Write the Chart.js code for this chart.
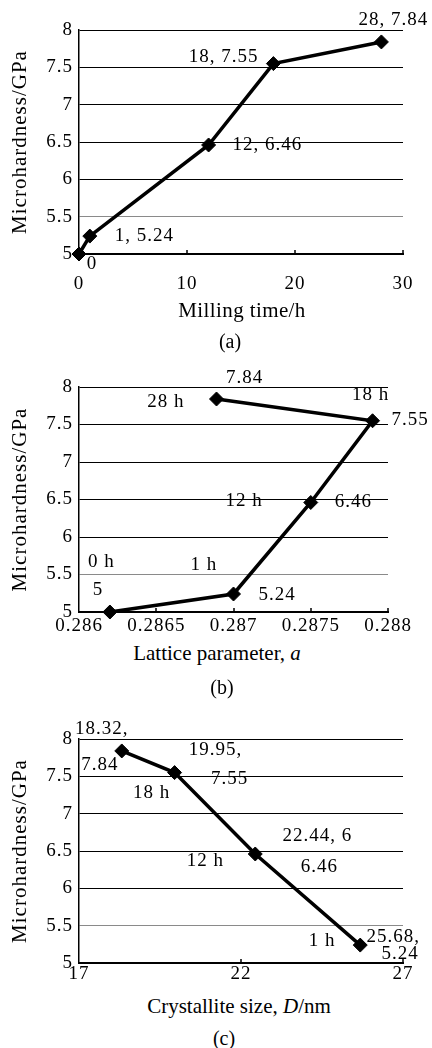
<!DOCTYPE html>
<html>
<head>
<meta charset="utf-8">
<script src="https://cdn.jsdelivr.net/npm/chart.js@4.4.0/dist/chart.umd.min.js"></script>
<style>
  body { margin: 0; background: #fff; }
  #page { position: relative; width: 432px; height: 1048px; background: #fff;
          font-family: 'Liberation Serif', 'Times New Roman', serif; color: #000; }
  canvas { position: absolute; left: 0; }
  .cap { position: absolute; width: 300px; text-align: center; font-size: 21px;
         line-height: 22px; white-space: nowrap; }
  .sub { font-size: 20px; }
</style>
</head>
<body>
<div id="page">
  <canvas id="chartA" width="432" height="300" style="top:0px"></canvas>
  <canvas id="chartB" width="432" height="300" style="top:340px"></canvas>
  <canvas id="chartC" width="432" height="300" style="top:690px"></canvas>
  <div class="cap" style="left:92px;top:299px;letter-spacing:0.4px">Milling time/h</div>
  <div class="cap sub" style="left:80px;top:330px">(a)</div>
  <div class="cap" style="left:67px;top:642px">Lattice parameter, <i>a</i></div>
  <div class="cap sub" style="left:72px;top:676px">(b)</div>
  <div class="cap" style="left:89px;top:995px">Crystallite size, <i>D</i>/nm</div>
  <div class="cap sub" style="left:74px;top:1027px">(c)</div>
</div>
<script>
// measured values per milling time
const millingHours = [0, 1, 12, 18, 28];
const hardnessGPa = [5, 5.24, 6.46, 7.55, 7.84];
const latticeA = [0.2862, 0.287, 0.2875, 0.2879, 0.28689];
// crystallite size only for milled powders (1 h onward)
const crystalliteNm = [25.68, 22.44, 19.95, 18.32];
const crystalliteHardness = [5.24, 6.46, 7.55, 7.84];

// axis ticks
const hardnessTicks = [5, 5.5, 6, 6.5, 7, 7.5, 8];
const timeTicks = [0, 10, 20, 30];
const latticeTicks = [0.286, 0.2865, 0.287, 0.2875, 0.288];
const sizeTicks = [17, 22, 27];

const serif = "'Liberation Serif', 'Times New Roman', serif";
Chart.defaults.font.family = serif;
Chart.defaults.font.size = 19;
Chart.defaults.color = '#000';

const fmt = v => String(+v.toFixed(4));

// text beside each point, offsets in px from the point
const notesA = [
  { i: 0, text: '0', dx: 13, dy: 10, align: 'center' },
  { i: 1, text: `${millingHours[1]}, ${hardnessGPa[1]}`, dx: 25, dy: 0 },
  { i: 2, text: `${millingHours[2]}, ${hardnessGPa[2]}`, dx: 24, dy: 0 },
  { i: 3, text: `${millingHours[3]}, ${hardnessGPa[3]}`, dx: -15, dy: -7, align: 'right' },
  { i: 4, text: `${millingHours[4]}, ${hardnessGPa[4]}`, dx: -23, dy: -22 }
];
const notesB = [
  { i: 0, text: '0 h', dx: -22, dy: -50 },
  { i: 0, text: String(hardnessGPa[0]), dx: -12, dy: -22, align: 'center' },
  { i: 1, text: '1 h', dx: -43, dy: -29 },
  { i: 1, text: String(hardnessGPa[1]), dx: 25, dy: 1 },
  { i: 2, text: '12 h', dx: -48, dy: -1, align: 'right' },
  { i: 2, text: String(hardnessGPa[2]), dx: 24, dy: 0 },
  { i: 3, text: '18 h', dx: -2, dy: -26, align: 'center' },
  { i: 3, text: String(hardnessGPa[3]), dx: 19, dy: -1 },
  { i: 4, text: '28 h', dx: -32, dy: 3, align: 'right' },
  { i: 4, text: String(hardnessGPa[4]), dx: 28, dy: -21, align: 'center' }
];
const notesC = [
  { i: 3, text: crystalliteNm[3] + ',', dx: -20, dy: -22, align: 'center' },
  { i: 3, text: String(crystalliteHardness[3]), dx: -22, dy: 14, align: 'center' },
  { i: 2, text: crystalliteNm[2] + ',', dx: 41, dy: -23, align: 'center' },
  { i: 2, text: String(crystalliteHardness[2]), dx: 55, dy: 6, align: 'center' },
  { i: 2, text: '18 h', dx: -23, dy: 20, align: 'center' },
  { i: 1, text: crystalliteNm[1] + ', 6', dx: 62, dy: -18, align: 'center' },
  { i: 1, text: String(crystalliteHardness[1]), dx: 64, dy: 13, align: 'center' },
  { i: 1, text: '12 h', dx: -50, dy: 7, align: 'center' },
  { i: 0, text: '1 h', dx: -38, dy: -4, align: 'center' },
  { i: 0, text: crystalliteNm[0] + ',', dx: 33, dy: -8, align: 'center' },
  { i: 0, text: String(crystalliteHardness[0]), dx: 40, dy: 9, align: 'center' }
];

// slightly loose letter spacing for all canvas text
const looseText = {
  id: 'looseText',
  beforeDraw(chart) { chart.ctx.letterSpacing = '1px'; }
};

function pointNotes(notes) {
  return {
    id: 'pointNotes',
    afterDatasetsDraw(chart) {
      const pts = chart.getDatasetMeta(0).data;
      const ctx = chart.ctx;
      ctx.save();
      ctx.font = '19px ' + serif;
      ctx.letterSpacing = '1px';
      ctx.fillStyle = '#000';
      ctx.textBaseline = 'middle';
      notes.forEach(n => {
        const p = pts[n.i];
        ctx.textAlign = n.align || 'left';
        ctx.fillText(n.text, p.x + n.dx, p.y + n.dy);
      });
      ctx.restore();
    }
  };
}

// short tick marks pointing up into the plot from the x axis
const innerTicks = {
  id: 'innerTicks',
  beforeDatasetsDraw(chart) {
    const sx = chart.scales.x;
    const ctx = chart.ctx;
    ctx.save();
    ctx.strokeStyle = '#000';
    ctx.lineWidth = 1.5;
    ctx.beginPath();
    sx.ticks.slice(1).forEach(t => {
      const px = Math.round(sx.getPixelForValue(t.value));
      ctx.moveTo(px, sx.top);
      ctx.lineTo(px, sx.top - 4);
    });
    ctx.stroke();
    ctx.restore();
  }
};

function makeChart(id, xs, ys, xMin, xMax, xTicks, box, notes) {
  return new Chart(document.getElementById(id), {
    type: 'scatter',
    data: {
      datasets: [{
        data: xs.map((x, i) => ({ x: x, y: ys[i] })),
        showLine: true,
        borderColor: '#000',
        borderWidth: 3.5,
        pointStyle: 'rectRot',
        pointRadius: 7,
        pointHoverRadius: 7,
        pointBackgroundColor: '#000',
        pointBorderColor: '#000',
        pointBorderWidth: 1,
        clip: false
      }]
    },
    options: {
      responsive: false,
      animation: false,
      events: [],
      layout: { padding: { top: box.top, right: box.right, left: 0, bottom: 0 } },
      plugins: { legend: { display: false }, tooltip: { enabled: false } },
      scales: {
        x: {
          type: 'linear', min: xMin, max: xMax,
          afterBuildTicks: s => { s.ticks = xTicks.map(v => ({ value: v })); },
          afterFit: s => { s.height = box.xh; },
          grid: { display: false, drawTicks: false },
          border: { display: true, color: '#000', width: 2 },
          ticks: { color: '#000', padding: box.pad, maxRotation: 0, autoSkip: false, callback: fmt }
        },
        y: {
          type: 'linear', min: 5, max: 8,
          afterBuildTicks: s => { s.ticks = hardnessTicks.map(v => ({ value: v })); },
          afterFit: s => { s.width = 79; },
          grid: {
            drawTicks: false,
            lineWidth: 1,
            color: c => (c.tick && c.tick.value === 5.5) ? '#8a8a8a' : '#000'
          },
          border: { display: true, color: '#000', width: 1.5 },
          ticks: { color: '#000', padding: 6, callback: fmt },
          title: {
            display: true, text: 'Microhardness/GPa', color: '#000',
            font: { size: 21 },
            padding: { top: 8, bottom: 0 }
          }
        }
      }
    },
    plugins: [looseText, innerTicks, pointNotes(notes)]
  });
}

makeChart('chartA', millingHours, hardnessGPa, 0, 30, timeTicks,
  { top: 30, right: 29, xh: 46, pad: 19 }, notesA);
makeChart('chartB', latticeA, hardnessGPa, 0.286, 0.288, latticeTicks,
  { top: 47, right: 44, xh: 28, pad: 3 }, notesB);
makeChart('chartC', crystalliteNm, crystalliteHardness, 17, 27, sizeTicks,
  { top: 49, right: 29, xh: 27, pad: 0 }, notesC);
</script>
</body>
</html>
